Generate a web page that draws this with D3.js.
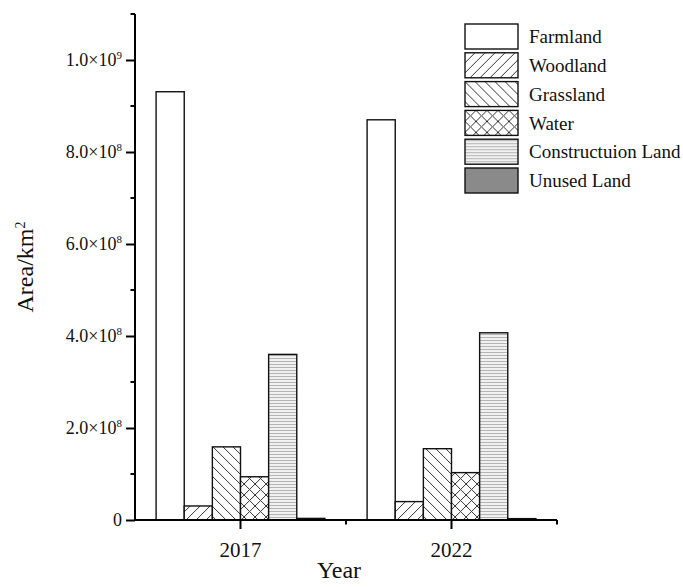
<!DOCTYPE html>
<html>
<head>
<meta charset="utf-8">
<script src="https://cdn.jsdelivr.net/npm/d3@7"></script>
<style>
  html, body { margin: 0; padding: 0; background: #fff; }
  svg { display: block; }
  text { font-family: "Liberation Serif", "Times New Roman", serif; fill: #111; }
</style>
</head>
<body>
<svg id="chart" width="683" height="587"></svg>
<script>
// Land-use area by year (km²)
const years = ["2017", "2022"];
const landTypes = ["Farmland", "Woodland", "Grassland", "Water", "Constructuion Land", "Unused Land"];
const area2017 = [9.31e8, 3.05e7, 1.59e8, 9.4e7, 3.60e8, 3.5e6];
const area2022 = [8.70e8, 4.0e7, 1.55e8, 1.03e8, 4.07e8, 3.0e6];
const yMajorTicks = [0, 2e8, 4e8, 6e8, 8e8, 1e9];
const yMinorTicks = [1e8, 3e8, 5e8, 7e8, 9e8, 1.1e9];
const yTickText = ["0", "2.0×10|8", "4.0×10|8", "6.0×10|8", "8.0×10|8", "1.0×10|9"];

const seriesByYear = [area2017, area2022];

const svg = d3.select("#chart");
const plotLeft = 135, plotRight = 557, plotTop = 14, plotBottom = 520;

const x = d3.scaleBand().domain(years).range([plotLeft, plotRight])
  .paddingInner(0.2).paddingOuter(0.1);
const xInner = d3.scaleBand().domain(landTypes).range([0, x.bandwidth()]).padding(0);
const y = d3.scaleLinear().domain([0, 1.1e9]).range([plotBottom, plotTop]);

// Fill patterns
const defs = svg.append("defs");
function hatch(id, size, draw, bg) {
  const p = defs.append("pattern").attr("id", id)
    .attr("patternUnits", "userSpaceOnUse").attr("width", size).attr("height", size);
  p.append("rect").attr("width", size).attr("height", size).attr("fill", bg || "#fff");
  draw(p, size);
}
hatch("p-wood", 10, (p, s) => {
  p.append("path").attr("d", `M0,${s} L${s},0 M${-s / 2},${s / 2} L${s / 2},${-s / 2} M${s / 2},${s * 1.5} L${s * 1.5},${s / 2}`)
    .attr("stroke", "#333").attr("stroke-width", 1);
});
hatch("p-grass", 10, (p, s) => {
  p.append("path").attr("d", `M0,0 L${s},${s} M${-s / 2},${s / 2} L${s / 2},${s * 1.5} M${s / 2},${-s / 2} L${s * 1.5},${s / 2}`)
    .attr("stroke", "#333").attr("stroke-width", 1);
});
hatch("p-water", 11, (p, s) => {
  p.append("path").attr("d", `M0,0 L${s},${s} M0,${s} L${s},0`)
    .attr("stroke", "#333").attr("stroke-width", 1);
});
hatch("p-build", 3, (p, s) => {
  p.append("line").attr("x1", 0).attr("x2", s).attr("y1", 1.5).attr("y2", 1.5)
    .attr("stroke", "#b4b4b4").attr("stroke-width", 1);
}, "#f1f1f1");

const fills = ["#ffffff", "url(#p-wood)", "url(#p-grass)", "url(#p-water)", "url(#p-build)", "#8a8a8a"];
const fillOf = d3.scaleOrdinal().domain(landTypes).range(fills);

// Bars
const groups = svg.append("g").selectAll("g").data(years).join("g")
  .attr("transform", d => `translate(${x(d)},0)`);
groups.selectAll("rect")
  .data((d, i) => landTypes.map((t, j) => ({ type: t, value: seriesByYear[i][j] })))
  .join("rect")
  .attr("x", d => xInner(d.type))
  .attr("width", xInner.bandwidth())
  .attr("y", d => y(d.value))
  .attr("height", d => plotBottom - y(d.value))
  .attr("fill", d => fillOf(d.type))
  .attr("stroke", "#111")
  .attr("stroke-width", 1.4);

// Y axis
const yAxis = svg.append("g").attr("transform", `translate(${plotLeft},0)`);
yAxis.call(d3.axisLeft(y).tickValues(yMajorTicks).tickSize(9).tickFormat(""))
  .call(g => g.select(".domain").attr("stroke-width", 2).attr("d", `M0,${plotTop}V${plotBottom + 1}`))
  .call(g => g.selectAll(".tick line").attr("stroke-width", 2));
yAxis.selectAll(".minor").data(yMinorTicks).join("line")
  .attr("class", "minor").attr("x1", -4.5).attr("x2", 0)
  .attr("y1", d => y(d)).attr("y2", d => y(d))
  .attr("stroke", "#000").attr("stroke-width", 2);

const yLab = svg.append("g").selectAll("text").data(yMajorTicks).join("text")
  .attr("x", 122).attr("y", d => y(d)).attr("dy", "0.33em")
  .attr("text-anchor", "end").attr("font-size", 18);
yLab.each(function (d, i) {
  const [base, exp] = yTickText[i].split("|");
  const t = d3.select(this);
  t.append("tspan").text(base);
  if (exp) t.append("tspan").attr("font-size", 11).attr("dy", "-0.65em").text(exp);
});

// X axis
const xAxis = svg.append("g").attr("transform", `translate(0,${plotBottom})`);
xAxis.call(d3.axisBottom(x).tickSize(9).tickFormat(""))
  .call(g => g.select(".domain").attr("stroke-width", 2).attr("d", `M${plotLeft - 1},0H${plotRight}`))
  .call(g => g.selectAll(".tick line").attr("stroke-width", 2));
const xMinor = [x("2017") + x.bandwidth() / 2 + x.step() / 2, x("2022") + x.bandwidth() / 2 + x.step() / 2];
xAxis.selectAll(".minor").data(xMinor).join("line")
  .attr("class", "minor").attr("x1", d => d).attr("x2", d => d)
  .attr("y1", 0).attr("y2", 4.5).attr("stroke", "#000").attr("stroke-width", 2);

svg.append("g").selectAll("text").data(years).join("text")
  .attr("x", d => x(d) + x.bandwidth() / 2).attr("y", 557)
  .attr("text-anchor", "middle").attr("font-size", 21).text(d => d);

// Axis titles
svg.append("text").attr("x", 339).attr("y", 578).attr("text-anchor", "middle")
  .attr("font-size", 24).text("Year");
const yTitle = svg.append("text")
  .attr("transform", `translate(33,${(plotTop + plotBottom) / 2}) rotate(-90)`)
  .attr("text-anchor", "middle").attr("font-size", 24);
yTitle.append("tspan").text("Area/km");
yTitle.append("tspan").attr("font-size", 14).attr("dy", "-0.6em").text("2");

// Legend
const legend = svg.append("g").selectAll("g").data(landTypes).join("g")
  .attr("transform", (d, i) => `translate(465,${24 + i * 28.8})`);
legend.append("rect").attr("width", 53).attr("height", 25)
  .attr("fill", d => fillOf(d)).attr("stroke", "#111").attr("stroke-width", 1.4);
legend.append("text").attr("x", 64).attr("y", 12.5).attr("dy", "0.35em")
  .attr("font-size", 19).text(d => d);
</script>
</body>
</html>
